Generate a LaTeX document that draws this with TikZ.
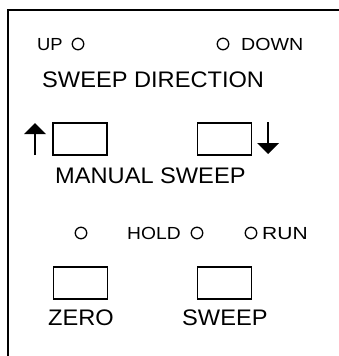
\documentclass[tikz,border=0pt]{standalone}
\usepackage{fontspec}
\usepackage{graphicx}
\setmainfont{Liberation Sans}
\begin{document}
\begin{tikzpicture}[x=1pt,y=-1pt,
  frame/.style={line width=1.5pt},
  led/.style={circle,draw,line width=1.3pt,minimum size=11.5pt,inner sep=0pt},
  key/.style={draw,line width=1.5pt,minimum width=54pt,minimum height=32pt,inner sep=0pt},
  small/.style={inner sep=0pt,anchor=base west,font=\fontsize{17.5}{19}\selectfont},
  big/.style={inner sep=0pt,anchor=base west,font=\fontsize{22.5}{24}\selectfont},
  arr/.style={line width=1.5pt}]
\useasboundingbox (0,0) rectangle (339,356);
\draw[frame] (8,357) -- (8,10) -- (340,10);
% top row
\node[small] (up) at (37,50) {\scalebox{1.05}[1]{UP}};
\node[led] (l1) at (78,44) {};
\node[led] (l2) at (223,44) {};
\node[small] (down) at (241,50) {\scalebox{1.12}[1]{DOWN}};
\node[big] (sd) at (42,87) {\scalebox{1.05}[1]{SWEEP DIRECTION}};
% manual sweep
\node[key] (b1) at (80,139) {};
\node[key] (b2) at (224.5,139) {};
\coordinate (a1s) at (35,155);
\coordinate (a1e) at (35,123);
\coordinate (a2s) at (268,122);
\coordinate (a2e) at (268,154);
\draw[arr] (a1s) -- (35,133);
\fill (a1e) -- (24,134) -- (46,134) -- cycle;
\draw[arr] (a2s) -- (268,143);
\fill (a2e) -- (257,143) -- (279,143) -- cycle;
\node[big] (ms) at (55,183) {\scalebox{1.05}[1]{MANUAL SWEEP}};
% bottom row
\node[led] (l3) at (81,233) {};
\node[small] (hold) at (127,239) {\scalebox{1.1}[1]{HOLD}};
\node[led] (l4) at (197,233) {};
\node[led] (l5) at (251,233) {};
\node[small] (run) at (262,239) {\scalebox{1.2}[1]{RUN}};
\node[key] (b3) at (80.5,283) {};
\node[key] (b4) at (224.5,283) {};
\node[big] (zero) at (48,325) {\scalebox{1.05}[1]{ZERO}};
\node[big] (sw) at (182,325) {\scalebox{1.05}[1]{SWEEP}};
\end{tikzpicture}
\end{document}
